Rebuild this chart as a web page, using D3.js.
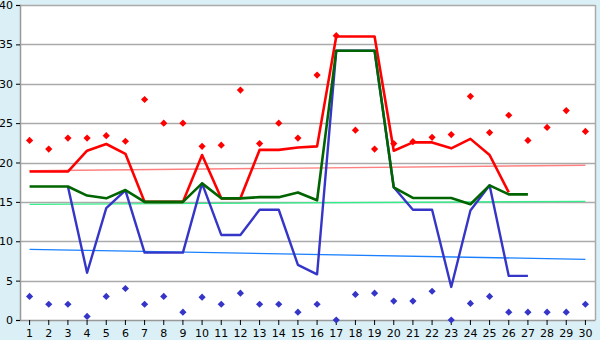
<!DOCTYPE html>
<html>
<head>
<meta charset="utf-8">
<script src="https://cdn.jsdelivr.net/npm/d3@7"></script>
<style>
  html, body { margin: 0; padding: 0; background: #daf0f6; }
  svg { display: block; }
  text { font-family: "DejaVu Sans", Verdana, sans-serif; font-size: 11px; fill: #000; }
</style>
</head>
<body>
<svg id="chart" width="600" height="340"></svg>
<script>
// Day numbers along the x axis
const days = d3.range(1, 31);

// Upper daily readings (red markers) and lower daily readings (blue markers)
const highPoints = [22.8, 21.7, 23.1, 23.1, 23.4, 22.7, 28.0, 25.0, 25.0, 22.05,
                    22.2, 29.2, 22.4, 25.0, 23.1, 31.1, 36.1, 24.1, 21.7, 22.4,
                    22.65, 23.2, 23.55, 28.4, 23.8, 26.0, 22.8, 24.45, 26.6, 23.95];
const lowPoints = [3.0, 2.0, 2.0, 0.45, 3.0, 4.0, 2.0, 3.0, 1.0, 2.9,
                   2.0, 3.4, 2.0, 2.0, 1.0, 2.0, 0.0, 3.25, 3.4, 2.4,
                   2.4, 3.65, 0.0, 2.1, 3.0, 1.0, 1.0, 1.0, 1.0, 2.0];

// Running series (null where no value)
const redLine = [18.85, 18.85, 18.85, 21.5, 22.35, 21.1, 15.0, 15.0, 15.0, 20.95,
                 15.45, 15.45, 21.6, 21.6, 21.9, 22.05, 36.0, 36.0, 36.0, 21.5,
                 22.55, 22.55, 21.8, 23.0, 20.95, 16.2, null, null, null, null];
const greenLine = [16.95, 16.95, 16.95, 15.8, 15.45, 16.5, 15.0, 15.0, 15.0, 17.35,
                   15.45, 15.45, 15.6, 15.6, 16.2, 15.2, 34.2, 34.2, 34.2, 16.85,
                   15.5, 15.5, 15.5, 14.7, 17.1, 15.95, 15.95, null, null, null];
const blueLine = [null, null, 16.95, 6.0, 14.2, 16.45, 8.55, 8.55, 8.55, 17.35,
                  10.8, 10.8, 14.0, 14.0, 7.0, 5.8, 34.2, 34.2, 34.2, 16.85,
                  14.0, 14.0, 4.2, 13.9, 17.1, 5.6, 5.6, null, null, null];

// Straight trend lines: value at day 1 and at day 30
const redTrend = [18.95, 19.65];
const greenTrend = [14.68, 15.07];
const blueTrend = [8.97, 7.7];

// Y axis tick values
const yTicks = [0, 5, 10, 15, 20, 25, 30, 35, 40];

const svg = d3.select("#chart");
const plotLeft = 20, plotRight = 595, plotTop = 5, plotBottom = 320;

const x = d3.scaleBand().domain(days).range([plotLeft, plotRight]);
const cx = d => x(d) + x.bandwidth() / 2;
const y = d3.scaleLinear().domain([0, 40]).range([plotBottom, plotTop]);

// Plot area
svg.append("rect")
  .attr("x", plotLeft).attr("y", plotTop)
  .attr("width", plotRight - plotLeft).attr("height", plotBottom - plotTop)
  .attr("fill", "#fff");

// Horizontal grid lines
svg.append("g")
  .selectAll("line")
  .data(yTicks.filter(t => t > 0))
  .join("line")
  .attr("x1", plotLeft).attr("x2", plotRight)
  .attr("y1", d => Math.round(y(d)) + 0.5).attr("y2", d => Math.round(y(d)) + 0.5)
  .attr("stroke", "#aaaaaa").attr("stroke-width", 1.5);

// Right border
svg.append("line")
  .attr("x1", plotRight + 0.5).attr("x2", plotRight + 0.5)
  .attr("y1", plotTop).attr("y2", plotBottom)
  .attr("stroke", "#aaaaaa").attr("stroke-width", 1.5);

// Axes
const yAxis = d3.axisLeft(y).tickValues(yTicks).tickSize(4).tickPadding(3);
const gy = svg.append("g").attr("transform", `translate(${plotLeft},0)`).call(yAxis);
gy.select(".domain").attr("stroke", "#999").attr("stroke-width", 1.5);
gy.selectAll(".tick line").attr("stroke", "#000");
gy.selectAll("text").style("font-size", "11px");

const xAxis = d3.axisBottom(x).tickSize(5).tickPadding(4).tickSizeOuter(0);
const gx = svg.append("g").attr("transform", `translate(0,${plotBottom})`).call(xAxis);
gx.select(".domain").attr("stroke", "#999").attr("stroke-width", 1.5);
gx.selectAll(".tick line").attr("stroke", "#000");
gx.selectAll("text").style("font-size", "11px");

// Trend lines
function trend(vals, color) {
  svg.append("line")
    .attr("x1", cx(days[0])).attr("x2", cx(days[days.length - 1]))
    .attr("y1", y(vals[0])).attr("y2", y(vals[1]))
    .attr("stroke", color).attr("stroke-width", 1.3);
}
trend(redTrend, "#ff8080");
trend(greenTrend, "#33ee88");
trend(blueTrend, "#1a80ff");

// Series lines
const line = d3.line()
  .defined(d => d.v !== null)
  .x(d => cx(d.day))
  .y(d => y(d.v));

function series(vals, color, width) {
  svg.append("path")
    .datum(days.map((day, i) => ({ day, v: vals[i] })))
    .attr("d", line)
    .attr("fill", "none")
    .attr("stroke", color)
    .attr("stroke-width", width)
    .attr("stroke-linejoin", "round");
}
series(redLine, "#ff0000", 2.6);
series(blueLine, "#3535c8", 2.4);
series(greenLine, "#006400", 2.6);

// Point markers: small square diamonds
const squareDiamond = {
  draw(ctx, size) {
    const r = Math.sqrt(size / 2);
    ctx.moveTo(0, -r);
    ctx.lineTo(r, 0);
    ctx.lineTo(0, r);
    ctx.lineTo(-r, 0);
    ctx.closePath();
  }
};
const marker = d3.symbol().type(squareDiamond).size(26);
function markers(vals, color) {
  svg.append("g")
    .selectAll("path")
    .data(days.map((day, i) => ({ day, v: vals[i] })))
    .join("path")
    .attr("d", marker)
    .attr("transform", d => `translate(${cx(d.day)},${y(d.v)})`)
    .attr("fill", color);
}
markers(highPoints, "#ff0000");
markers(lowPoints, "#3535c8");
</script>
</body>
</html>
